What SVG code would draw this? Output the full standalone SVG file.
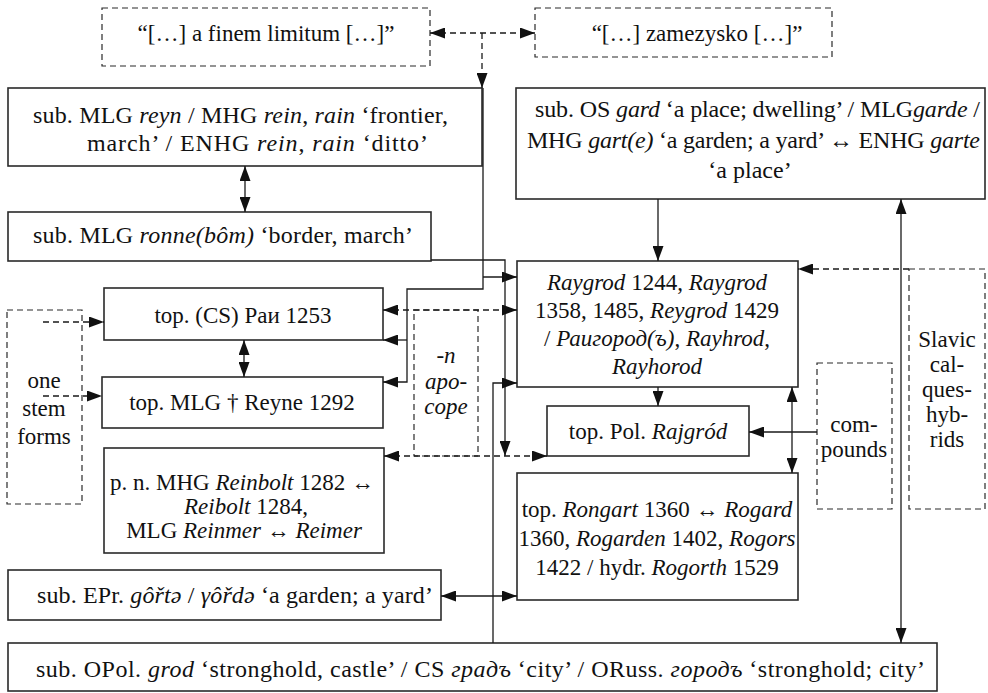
<svg xmlns="http://www.w3.org/2000/svg" width="988" height="693" viewBox="0 0 988 693">
<style>
text { font-family: "Liberation Serif", "Times New Roman", serif; font-size: 23px; fill: #111; text-anchor: middle; }
.s { font-size: 24px; text-anchor: start; }
.i { font-style: italic; }
.box { fill: #fff; stroke: #2a2a2a; stroke-width: 1.6; }
.dbox { fill: none; stroke: #2a2a2a; stroke-width: 1.2; stroke-dasharray: 6 4; }
.c { fill: none; stroke: #1a1a1a; stroke-width: 1.3; }
.d { stroke-dasharray: 6 4; }
</style>
<defs>
<marker id="a" viewBox="0 0 15 11" refX="15" refY="5.5" markerWidth="15" markerHeight="11" markerUnits="userSpaceOnUse" orient="auto-start-reverse"><path d="M0,0 L15,5.5 L0,11 z" fill="#111"/></marker>
</defs>
<rect width="988" height="693" fill="#fff"/>

<g id="finem"><rect class="dbox" x="102" y="8" width="328" height="58"/><text x="266" y="41">“[…] a finem limitum […]”</text></g>
<g id="zamezysko"><rect class="dbox" x="535" y="8" width="297" height="49"/><text x="697" y="41">“[…] zamezysko […]”</text></g>

<g id="reyn"><rect class="box" x="8" y="88" width="474" height="78"/>
<text class="s" x="33" y="123" textLength="415">sub. MLG <tspan class="i">reyn</tspan> / MHG <tspan class="i">rein</tspan>, <tspan class="i">rain</tspan> ‘frontier,</text>
<text class="s" x="87" y="151" textLength="341">march’ / ENHG <tspan class="i">rein</tspan>, <tspan class="i">rain</tspan> ‘ditto’</text></g>

<g id="ronne"><rect class="box" x="8" y="212" width="423" height="49"/>
<text class="s" x="33" y="243" textLength="380">sub. MLG <tspan class="i">ronne(bôm)</tspan> ‘border, march’</text></g>

<g id="gard"><rect class="box" x="516" y="88" width="469" height="111"/>
<text class="s" x="535" y="117" textLength="445">sub. OS <tspan class="i">gard</tspan> ‘a place; dwelling’ / MLG<tspan class="i">garde</tspan> /</text>
<text class="s" x="527" y="148" textLength="453">MHG <tspan class="i">gart(e)</tspan> ‘a garden; a yard’ ↔ ENHG <tspan class="i">garte</tspan></text>
<text x="750" y="178" style="font-size:24px">‘a place’</text></g>

<g id="raygrod"><rect class="box" x="517" y="261" width="281" height="126"/>
<text x="657" y="290"><tspan class="i">Raygrod</tspan> 1244, <tspan class="i">Raygrod</tspan></text>
<text x="657" y="318">1358, 1485, <tspan class="i">Reygrod</tspan> 1429</text>
<text x="657" y="346">/ <tspan class="i">Раигород(ъ)</tspan>, <tspan class="i">Rayhrod</tspan>,</text>
<text x="657" y="374" class="i">Rayhorod</text></g>

<g id="rai"><rect class="box" x="104" y="288" width="279" height="52"/>
<text x="243" y="323">top. (CS) Раи 1253</text></g>

<g id="reyne"><rect class="box" x="102" y="377" width="281" height="51"/>
<text x="242" y="410">top. MLG † Reyne 1292</text></g>

<g id="reinbolt"><rect class="box" x="104" y="448" width="280" height="105"/>
<text x="242" y="490">p. n. MHG <tspan class="i">Reinbolt</tspan> 1282 ↔</text>
<text x="246" y="514"><tspan class="i">Reibolt</tspan> 1284,</text>
<text x="244" y="538">MLG <tspan class="i">Reinmer</tspan> ↔ <tspan class="i">Reimer</tspan></text></g>

<g id="rajgrod"><rect class="box" x="547" y="406" width="202" height="50"/>
<text x="648" y="439">top. Pol. <tspan class="i">Rajgród</tspan></text></g>

<g id="rongart"><rect class="box" x="517" y="473" width="281" height="127"/>
<text x="657" y="517">top. <tspan class="i">Rongart</tspan> 1360 ↔ <tspan class="i">Rogard</tspan></text>
<text x="657" y="546">1360, <tspan class="i">Rogarden</tspan> 1402, <tspan class="i">Rogors</tspan></text>
<text x="657" y="575">1422 / hydr. <tspan class="i">Rogorth</tspan> 1529</text></g>

<g id="epr"><rect class="box" x="8" y="570" width="433" height="50"/>
<text class="s" x="37" y="603" textLength="396">sub. EPr. <tspan class="i">gôřtə</tspan> / <tspan class="i">γôřdə</tspan> ‘a garden; a yard’</text></g>

<g id="grod"><rect class="box" x="8" y="643" width="929" height="48"/>
<text class="s" x="36" y="677" textLength="889">sub. OPol. <tspan class="i">grod</tspan> ‘stronghold, castle’ / CS <tspan class="i">градъ</tspan> ‘city’ / ORuss. <tspan class="i">городъ</tspan> ‘stronghold; city’</text></g>

<g id="onestem"><rect class="dbox" x="7" y="310" width="75" height="194"/>
<text x="44" y="388">one</text><text x="44" y="416">stem</text><text x="44" y="444">forms</text></g>

<g id="apocope"><rect class="dbox" x="414" y="310" width="64" height="146"/>
<text x="446" y="363" class="i">-n</text><text x="446" y="389" class="i">apo-</text><text x="446" y="414" class="i">cope</text></g>

<g id="compounds"><rect class="dbox" x="817" y="363" width="75" height="146"/>
<text x="854" y="432">com-</text><text x="854" y="457">pounds</text></g>

<g id="slavic"><rect class="dbox" x="909" y="269" width="76" height="240"/>
<text x="947" y="347">Slavic</text><text x="947" y="372">cal-</text><text x="947" y="397">ques-</text><text x="947" y="422">hyb-</text><text x="947" y="447">rids</text></g>

<g id="connectors">
<line class="c d" x1="430" y1="33" x2="535" y2="33" marker-start="url(#a)" marker-end="url(#a)"/>
<path class="c d" d="M482,33 V88" marker-end="url(#a)"/>
<path class="c" d="M483,88 V289 H407 V382 H383" marker-end="url(#a)"/>
<path class="c" d="M407,340 H383" marker-end="url(#a)"/>
<path class="c" d="M483,277 H517" marker-end="url(#a)"/>
<path class="c" d="M431,260 H505 V456" marker-end="url(#a)"/>
<line class="c d" x1="383" y1="310" x2="517" y2="310" marker-start="url(#a)" marker-end="url(#a)"/>
<line class="c d" x1="384" y1="456" x2="547" y2="456" marker-start="url(#a)" marker-end="url(#a)"/>
<path class="c" d="M493,643 V383 H517" marker-end="url(#a)"/>
<line class="c" x1="441" y1="596" x2="517" y2="596" marker-start="url(#a)" marker-end="url(#a)"/>
<line class="c" x1="658" y1="199" x2="658" y2="261" marker-end="url(#a)"/>
<line class="c" x1="658" y1="387" x2="658" y2="406" marker-end="url(#a)"/>
<line class="c" x1="792" y1="387" x2="792" y2="473" marker-start="url(#a)" marker-end="url(#a)"/>
<line class="c" x1="817" y1="432" x2="749" y2="432" marker-end="url(#a)"/>
<line class="c d" x1="909" y1="269" x2="798" y2="269" marker-end="url(#a)"/>
<line class="c" x1="901" y1="199" x2="901" y2="643" marker-start="url(#a)" marker-end="url(#a)"/>
<line class="c d" x1="43" y1="322" x2="104" y2="322" marker-end="url(#a)"/>
<line class="c d" x1="43" y1="396" x2="102" y2="396" marker-end="url(#a)"/>
<line class="c" x1="245" y1="166" x2="245" y2="212" marker-start="url(#a)" marker-end="url(#a)"/>
<line class="c" x1="244" y1="340" x2="244" y2="377" marker-start="url(#a)" marker-end="url(#a)"/>
</g>
</svg>
